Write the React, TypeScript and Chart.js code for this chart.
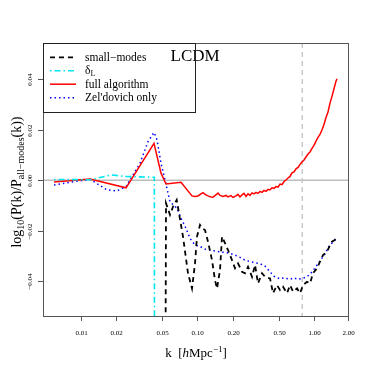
import React, { useEffect, useRef } from "react";
import { Chart, registerables } from "chart.js";

Chart.register(...registerables);

// ---- axis ticks ----
const xTicks = [0.01, 0.02, 0.05, 0.1, 0.2, 0.5, 1, 2];
const xTickLabels = ["0.01", "0.02", "0.05", "0.10", "0.20", "0.50", "1.00", "2.00"];
const yTicks = [-0.04, -0.02, 0, 0.02, 0.04];
const yTickLabels = ["\u22120.04", "\u22120.02", "0.00", "0.02", "0.04"];
const xMin = 0.004749;
const xMax = 1.948;
const yMin = -0.0537;
const yMax = 0.0543;
const kNonlinear = 0.79;

// ---- series ----
const smallModesK = [
  0.05323, 0.05376, 0.05816, 0.06171, 0.06639, 0.06947, 0.07517, 0.08296, 0.08977, 0.09525,
  0.09908, 0.1051, 0.1094, 0.116, 0.1231, 0.1332, 0.1413, 0.147, 0.156, 0.1623,
  0.1721, 0.1826, 0.1976, 0.2097, 0.2225, 0.2408, 0.2554, 0.271, 0.2933, 0.3112,
  0.3301, 0.3572, 0.379, 0.4183, 0.4438, 0.4803, 0.5096, 0.5406, 0.585, 0.6207,
  0.6586, 0.7126, 0.7561, 0.8022, 0.868, 0.921, 0.9766, 1.0568, 1.1211, 1.1896,
  1.2873, 1.3655, 1.4205, 1.4777, 1.5678,
];
const smallModesV = [
  -0.07, -0.0091, -0.0137, -0.0105, -0.0078, -0.0131, -0.0223, -0.0368, -0.0428, -0.0329,
  -0.0223, -0.0177, -0.019, -0.0197, -0.0243, -0.0316, -0.0395, -0.0428, -0.0355, -0.0223,
  -0.0249, -0.0276, -0.0316, -0.0348, -0.0329, -0.0362, -0.0368, -0.0342, -0.0382, -0.0335,
  -0.0408, -0.0368, -0.0382, -0.0388, -0.0447, -0.0415, -0.0434, -0.0421, -0.0447, -0.0415,
  -0.0441, -0.0428, -0.0447, -0.0415, -0.0402, -0.0408, -0.0368, -0.0348, -0.0322, -0.0296,
  -0.0283, -0.0256, -0.0243, -0.0238, -0.023,
];

const deltaLK = [0.005902, 0.012003, 0.018163, 0.024418, 0.041597, 0.0427, 0.04285];
const deltaLV = [0.0003, 0.0002, 0.0021, 0.0015, 0.0012, 0.0012, -0.07];

const fullK = [
  0.005902, 0.012003, 0.024418, 0.042427, 0.048707, 0.053761, 0.072262, 0.089771, 0.095248, 0.10105,
  0.10722, 0.11153, 0.11602, 0.12308, 0.13059, 0.13585, 0.14132, 0.14994, 0.15597, 0.16548,
  0.17557, 0.18264, 0.19377, 0.20157, 0.21386, 0.22247, 0.23143, 0.24075, 0.25044, 0.26052,
  0.27101, 0.28192, 0.29327, 0.30507, 0.31735, 0.33013, 0.34342, 0.35724, 0.37162, 0.38658,
  0.40214, 0.41833, 0.43517, 0.45268, 0.4709, 0.48985, 0.50957, 0.53008, 0.55141, 0.57361,
  0.59669, 0.62071, 0.6457, 0.67168, 0.6987, 0.72681, 0.75608, 0.78651, 0.81816, 0.85109,
  0.88534, 0.92097, 0.95757, 0.99607, 1.0361, 1.0779, 1.1211, 1.1664, 1.2133, 1.2622,
  1.3129, 1.3655, 1.4205, 1.4777, 1.5372, 1.5678,
];
const fullV = [
  -0.0007, 0.0005, -0.003, 0.0146, 0.0028, -0.0015, -0.0008, -0.0062, -0.0064, -0.0062,
  -0.0054, -0.0049, -0.0056, -0.0062, -0.0066, -0.0067, -0.0061, -0.0051, -0.006, -0.0064,
  -0.006, -0.0066, -0.0061, -0.0068, -0.0062, -0.0056, -0.0066, -0.0058, -0.0052, -0.0064,
  -0.0054, -0.006, -0.005, -0.0054, -0.0048, -0.0052, -0.0044, -0.0048, -0.004, -0.0044,
  -0.0036, -0.0038, -0.003, -0.0032, -0.0025, -0.0027, -0.0015, -0.0017, -0.0005, 0.0001,
  0.0009, 0.0015, 0.0029, 0.0033, 0.0045, 0.0051, 0.0063, 0.0072, 0.008, 0.0092,
  0.0104, 0.0112, 0.0126, 0.0138, 0.0155, 0.017, 0.0181, 0.02, 0.0221, 0.0248,
  0.027, 0.0305, 0.0332, 0.0362, 0.0392, 0.0401,
];

const zeldK = [
  0.005902, 0.008585, 0.012003, 0.016786, 0.020448, 0.024418, 0.032192, 0.037693, 0.042427, 0.04501,
  0.048707, 0.05271, 0.058163, 0.066782, 0.072262, 0.079745, 0.086294, 0.095248, 0.10512, 0.11602,
  0.12804, 0.14132, 0.15597, 0.17214, 0.18999, 0.20968, 0.23143, 0.25543, 0.28192, 0.31115,
  0.34342, 0.37903, 0.41833, 0.45268, 0.50957, 0.55141, 0.62071, 0.67168, 0.72681, 0.78651,
  0.85109, 0.92097, 0.99607, 1.0779, 1.1664, 1.2133, 1.2622, 1.3129, 1.3655, 1.4205,
  1.4777, 1.5372, 1.5678,
];
const zeldV = [
  -0.0019, -0.0006, 0.0004, -0.0038, -0.0042, -0.0025, 0.0067, 0.0153, 0.0189, 0.016,
  0.0067, 0.0001, -0.0085, -0.0111, -0.015, -0.019, -0.023, -0.0256, -0.0262, -0.0272,
  -0.0276, -0.028, -0.0283, -0.0286, -0.0289, -0.0296, -0.0305, -0.0316, -0.0322, -0.0326,
  -0.033, -0.034, -0.0362, -0.038, -0.039, -0.0386, -0.0392, -0.0386, -0.0392, -0.0388,
  -0.0384, -0.0372, -0.0352, -0.033, -0.0308, -0.0298, -0.0282, -0.027, -0.0257, -0.0248,
  -0.024, -0.0232, -0.0228,
];

const legendLabels = ["small\u2212modes", "\u03b4", "full algorithm", "Zel'dovich only"];
const plotTitle = "LCDM";

const SERIF = "'Liberation Serif', 'Times New Roman', serif";

const toPts = (ks: number[], vs: number[]) => ks.map((k, i) => ({ x: k, y: vs[i] }));

type Part = { t: string; size: number; dy: number; italic?: boolean };

function drawParts(ctx: CanvasRenderingContext2D, parts: Part[], cx: number, baseY: number) {
  let total = 0;
  for (const p of parts) {
    ctx.font = `${p.italic ? "italic " : ""}${p.size}px ${SERIF}`;
    total += ctx.measureText(p.t).width;
  }
  let x = cx - total / 2;
  ctx.textAlign = "left";
  ctx.textBaseline = "alphabetic";
  for (const p of parts) {
    ctx.font = `${p.italic ? "italic " : ""}${p.size}px ${SERIF}`;
    ctx.fillText(p.t, x, baseY + p.dy);
    x += ctx.measureText(p.t).width;
  }
}

const decoPlugin = {
  id: "deco",
  beforeDatasetsDraw(chart: any) {
    const { ctx, chartArea: a, scales } = chart;
    const xs = scales.x;
    const ys = scales.y;
    ctx.save();
    ctx.beginPath();
    ctx.rect(a.left, a.top, a.right - a.left, a.bottom - a.top);
    ctx.clip();
    const y0 = ys.getPixelForValue(0);
    ctx.strokeStyle = "#bdbdbd";
    ctx.lineWidth = 1.5;
    ctx.beginPath();
    ctx.moveTo(a.left, y0);
    ctx.lineTo(a.right, y0);
    ctx.stroke();
    const xv = xs.getPixelForValue(kNonlinear);
    ctx.setLineDash([5, 4]);
    ctx.strokeStyle = "#c8c8c8";
    ctx.beginPath();
    ctx.moveTo(xv, a.top);
    ctx.lineTo(xv, a.bottom);
    ctx.stroke();
    ctx.restore();
  },
  afterDraw(chart: any) {
    const { ctx, chartArea: a, scales } = chart;
    const xs = scales.x;
    const ys = scales.y;
    ctx.save();
    // frame
    ctx.strokeStyle = "#555";
    ctx.lineWidth = 1;
    ctx.strokeRect(Math.round(a.left) + 0.5, Math.round(a.top) + 0.5, Math.round(a.right - a.left), Math.round(a.bottom - a.top));
    // x ticks
    ctx.fillStyle = "#000";
    ctx.font = `7px ${SERIF}`;
    ctx.textAlign = "center";
    ctx.textBaseline = "middle";
    xTicks.forEach((v, i) => {
      const px = Math.min(Math.round(xs.getPixelForValue(v)), Math.round(a.right)) + 0.5;
      ctx.beginPath();
      ctx.moveTo(px, a.bottom);
      ctx.lineTo(px, a.bottom + 5);
      ctx.stroke();
      ctx.fillText(xTickLabels[i], px, 333.5);
    });
    // y ticks
    yTicks.forEach((v, i) => {
      const py = Math.round(ys.getPixelForValue(v)) + 0.5;
      ctx.beginPath();
      ctx.moveTo(a.left, py);
      ctx.lineTo(a.left - 5, py);
      ctx.stroke();
      ctx.save();
      ctx.translate(30, py);
      ctx.rotate(-Math.PI / 2);
      ctx.fillText(yTickLabels[i], 0, 0);
      ctx.restore();
    });
    // x title
    ctx.fillStyle = "#000";
    drawParts(
      ctx,
      [
        { t: "k  [", size: 13, dy: 0 },
        { t: "h", size: 13, dy: 0, italic: true },
        { t: "Mpc", size: 13, dy: 0 },
        { t: "\u22121", size: 9, dy: -5 },
        { t: "]", size: 13, dy: 0 },
      ],
      196,
      357
    );
    // y title
    ctx.save();
    ctx.translate(20.5, 182);
    ctx.rotate(-Math.PI / 2);
    drawParts(
      ctx,
      [
        { t: "log", size: 14, dy: 0 },
        { t: "10", size: 10, dy: 3 },
        { t: "(P(k)/P", size: 14, dy: 0 },
        { t: "all\u2212modes", size: 10, dy: 3 },
        { t: "(k))", size: 14, dy: 0 },
      ],
      0,
      0
    );
    ctx.restore();
    // title in plot
    ctx.font = `17px ${SERIF}`;
    ctx.textAlign = "left";
    ctx.textBaseline = "alphabetic";
    ctx.fillText(plotTitle, 170.5, 60.5);
    // legend
    const lx = Math.round(a.left) + 0.5;
    const ly = Math.round(a.top) + 0.5;
    ctx.strokeStyle = "#222";
    ctx.lineWidth = 1;
    ctx.strokeRect(lx, ly, 152, 69);
    const rowsY = [57.3, 70.7, 84.2, 97.8];
    const ds = chart.data.datasets;
    rowsY.forEach((ry, i) => {
      const d = ds[i];
      ctx.save();
      ctx.strokeStyle = d.borderColor;
      ctx.lineWidth = d.borderWidth;
      ctx.setLineDash(d.borderDash || []);
      ctx.beginPath();
      ctx.moveTo(50, ry);
      ctx.lineTo(76, ry);
      ctx.stroke();
      ctx.restore();
      ctx.fillStyle = "#000";
      ctx.font = `11.5px ${SERIF}`;
      ctx.textAlign = "left";
      ctx.textBaseline = "middle";
      ctx.fillText(legendLabels[i], 85, ry + 0.5);
      if (i === 1) {
        const w = ctx.measureText(legendLabels[i]).width;
        ctx.font = `8px ${SERIF}`;
        ctx.fillText("L", 85 + w, ry + 3.5);
      }
    });
    ctx.restore();
  },
};

export default function App() {
  const ref = useRef<HTMLCanvasElement | null>(null);
  useEffect(() => {
    if (!ref.current) return;
    const chart = new Chart(ref.current, {
      type: "scatter",
      data: {
        datasets: [
          {
            label: "small-modes",
            data: toPts(smallModesK, smallModesV),
            showLine: true,
            borderColor: "#000000",
            borderWidth: 1.8,
            borderDash: [5, 4],
            pointRadius: 0,
            tension: 0,
          },
          {
            label: "deltaL",
            data: toPts(deltaLK, deltaLV),
            showLine: true,
            borderColor: "#00e5ee",
            borderWidth: 1.6,
            borderDash: [1.5, 3, 6, 3],
            pointRadius: 0,
          },
          {
            label: "full algorithm",
            data: toPts(fullK, fullV),
            showLine: true,
            borderColor: "#ff0000",
            borderWidth: 1.5,
            pointRadius: 0,
          },
          {
            label: "Zel'dovich only",
            data: toPts(zeldK, zeldV),
            showLine: true,
            borderColor: "#0000ff",
            borderWidth: 1.5,
            borderDash: [1.5, 3],
            pointRadius: 0,
          },
        ],
      } as any,
      options: {
        responsive: false,
        animation: false,
        devicePixelRatio: 1,
        layout: { padding: { left: 43, right: 23, top: 43, bottom: 55 } },
        plugins: { legend: { display: false }, tooltip: { enabled: false }, title: { display: false } },
        scales: {
          x: { type: "logarithmic", min: xMin, max: xMax, display: false },
          y: { type: "linear", min: yMin, max: yMax, display: false },
        },
      } as any,
      plugins: [decoPlugin],
    });
    return () => chart.destroy();
  }, []);
  return (
    <div style={{ position: "absolute", left: 0, top: 0, width: 371, height: 371, background: "#fff" }}>
      <canvas ref={ref} width={371} height={371} style={{ width: 371, height: 371 }} />
    </div>
  );
}
